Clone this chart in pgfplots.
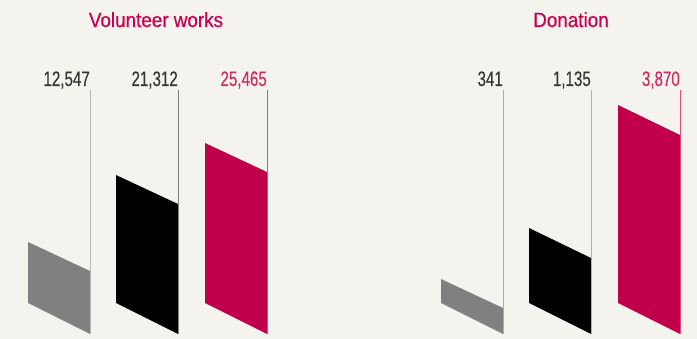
\documentclass[border=0pt]{standalone}
\usepackage{pgfplots}
\pgfplotsset{compat=1.18}
\usepackage{fontspec}
\setmainfont{Liberation Sans}
\newfontfamily\condfont[FakeStretch=0.72, FakeBold=0.25]{Liberation Sans}
\newfontfamily\titlefont[FakeStretch=0.92, FakeBold=0.6]{Liberation Sans}
\definecolor{bg}{HTML}{F4F3EE}
\definecolor{crim}{HTML}{C0004A}
\definecolor{titlec}{HTML}{CC0052}
\definecolor{crimlab}{HTML}{CF2A63}
\definecolor{crimline}{HTML}{DB4A7E}
\definecolor{barg}{HTML}{808080}
\definecolor{labg}{HTML}{333333}
\begin{document}
\begin{tikzpicture}
\begin{axis}[x=1pt, y=1pt, xmin=0, xmax=697, ymin=0, ymax=339, y dir=reverse,
  hide axis, clip=false, axis line style={draw=none}]
% background
\addplot[fill=bg, draw=none] coordinates {(0,0) (697,0) (697,339) (0,339)} -- cycle;
% ---- Volunteer works: 12,547  21,312  25,465 (bars in pixel geometry)
\addplot[fill=barg, draw=none] coordinates {(28,242) (90,271) (90,334) (28,303)} -- cycle;
\addplot[fill=black, draw=none] coordinates {(116,175) (178,204) (178,334) (116,303)} -- cycle;
\addplot[fill=crim, draw=none] coordinates {(205,143) (267,172) (267,334) (205,303)} -- cycle;
\addplot[draw=black!28, line width=1pt] coordinates {(90,90) (90,334)};
\addplot[draw=black!50, line width=1pt] coordinates {(178,90) (178,334)};
\addplot[draw=crimline, line width=1pt] coordinates {(267,90) (267,334)};
% ---- Donation: 341  1,135  3,870
\addplot[fill=barg, draw=none] coordinates {(441,279) (503,308) (503,334) (441,303)} -- cycle;
\addplot[fill=black, draw=none] coordinates {(529,228) (591,258) (591,334) (529,303)} -- cycle;
\addplot[fill=crim, draw=none] coordinates {(618,105) (680,135) (680,334) (618,303)} -- cycle;
\addplot[draw=black!33, line width=1pt] coordinates {(503,90) (503,334)};
\addplot[draw=black!30, line width=1pt] coordinates {(591,90) (591,334)};
\addplot[draw=crimline, line width=1pt] coordinates {(680,90) (680,334)};
% labels
\node[anchor=base east, inner sep=0pt, text=labg, font=\condfont\fontsize{21}{21}\selectfont] at (axis cs:90,86) {12,547};
\node[anchor=base east, inner sep=0pt, text=labg, font=\condfont\fontsize{21}{21}\selectfont] at (axis cs:178,86) {21,312};
\node[anchor=base east, inner sep=0pt, text=crimlab, font=\condfont\fontsize{21}{21}\selectfont] at (axis cs:267,86) {25,465};
\node[anchor=base east, inner sep=0pt, text=labg, font=\condfont\fontsize{21}{21}\selectfont] at (axis cs:503,86) {341};
\node[anchor=base east, inner sep=0pt, text=labg, font=\condfont\fontsize{21}{21}\selectfont] at (axis cs:591,86) {1,135};
\node[anchor=base east, inner sep=0pt, text=crimlab, font=\condfont\fontsize{21}{21}\selectfont] at (axis cs:680,86) {3,870};
% titles
\node[anchor=base, inner sep=0pt, text=titlec, font=\titlefont\fontsize{20.5}{21}\selectfont] at (axis cs:156,27) {Volunteer works};
\node[anchor=base, inner sep=0pt, text=titlec, font=\titlefont\fontsize{20.5}{21}\selectfont] at (axis cs:571,27) {Donation};
\end{axis}
\end{tikzpicture}
\end{document}
